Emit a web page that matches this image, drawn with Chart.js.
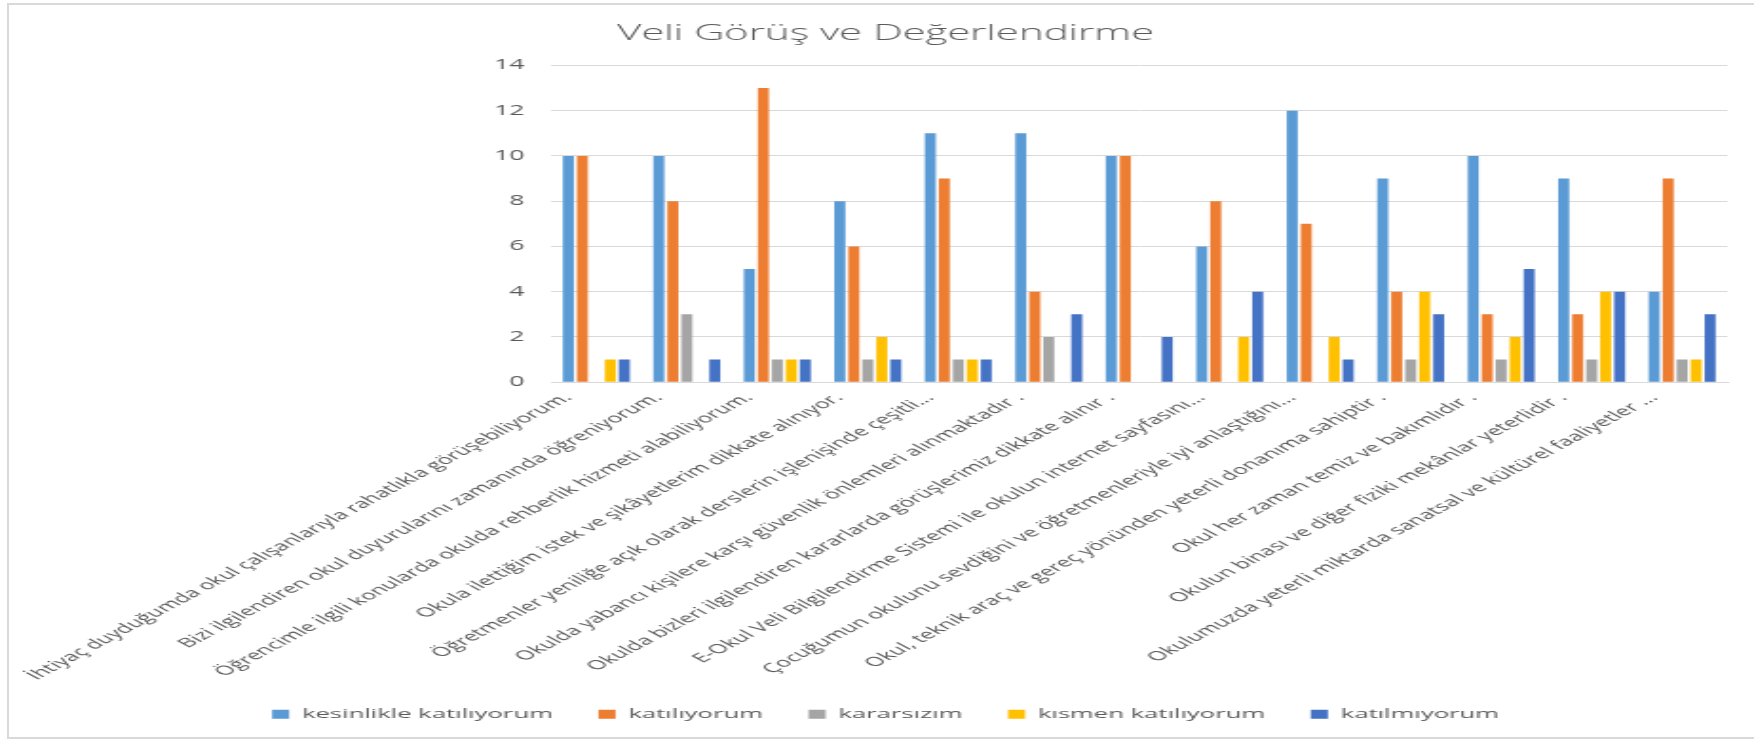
<!DOCTYPE html>
<html lang="tr">
<head>
<meta charset="utf-8">
<title>Veli Görüş ve Değerlendirme</title>
<script src="https://cdn.jsdelivr.net/npm/chart.js@4.4.1/dist/chart.umd.min.js"></script>
<style>
  html, body { margin: 0; padding: 0; background: #fff; overflow: hidden; }
  #frame {
    position: absolute; left: 7px; top: 3px; width: 1770px; height: 736px;
    border: 2px solid #d9d9d9; box-sizing: border-box;
  }
  /* the source picture is stretched sideways, so the chart is drawn narrow and widened */
  #wrap {
    position: absolute; left: 0; top: 0; width: 923px; height: 742px;
    transform: scaleX(1.9003); transform-origin: 0 0;
  }
</style>
</head>
<body>
<div id="frame"></div>
<div id="wrap"><canvas id="chart" width="923" height="742"></canvas></div>

<script>
// categories (x axis)
const categories = [
  'İhtiyaç duyduğumda okul çalışanlarıyla rahatlıkla görüşebiliyorum.',
  'Bizi ilgilendiren okul duyurularını zamanında öğreniyorum.',
  'Öğrencimle ilgili konularda okulda rehberlik hizmeti alabiliyorum.',
  'Okula ilettiğim istek ve şikâyetlerim dikkate alınıyor.',
  'Öğretmenler yeniliğe açık olarak derslerin işlenişinde çeşitli...',
  'Okulda yabancı kişilere karşı güvenlik önlemleri alınmaktadır .',
  'Okulda bizleri ilgilendiren kararlarda görüşlerimiz dikkate alınır .',
  'E-Okul Veli Bilgilendirme Sistemi ile okulun internet sayfasını...',
  'Çocuğumun okulunu sevdiğini ve öğretmenleriyle iyi anlaştığını...',
  'Okul, teknik araç ve gereç yönünden yeterli donanıma sahiptir .',
  'Okul her zaman temiz ve bakımlıdır .',
  'Okulun binası ve diğer fiziki mekânlar yeterlidir .',
  'Okulumuzda yeterli miktarda sanatsal ve kültürel faaliyetler ...'
];

// series values
const kesinlikleKatiliyorum = [10, 10, 5, 8, 11, 11, 10, 6, 12, 9, 10, 9, 4];
const katiliyorum           = [10, 8, 13, 6, 9, 4, 10, 8, 7, 4, 3, 3, 9];
const kararsizim            = [0, 3, 1, 1, 1, 2, 0, 0, 0, 1, 1, 1, 1];
const kismenKatiliyorum     = [1, 0, 1, 2, 1, 0, 0, 2, 2, 4, 2, 4, 1];
const katilmiyorum          = [1, 1, 1, 1, 1, 3, 2, 4, 1, 3, 5, 4, 3];

// y axis
const yMin = 0;
const yMax = 14;
const yStep = 2;

const TEXT = '#595959';
const GRID = '#d9d9d9';
const FONT = 'Open Sans';

const series = [
  { label: 'kesinlikle katılıyorum', data: kesinlikleKatiliyorum, color: '#5b9bd5' },
  { label: 'katılıyorum',            data: katiliyorum,           color: '#ed7d31' },
  { label: 'kararsızım',             data: kararsizim,            color: '#a5a5a5' },
  { label: 'kısmen katılıyorum',     data: kismenKatiliyorum,     color: '#ffc000' },
  { label: 'katılmıyorum',           data: katilmiyorum,          color: '#4472c4' }
];

new Chart(document.getElementById('chart'), {
  type: 'bar',
  data: {
    labels: categories,
    datasets: series.map(s => ({
      label: s.label,
      data: s.data,
      backgroundColor: s.color,
      borderWidth: 0,
      categoryPercentage: 0.773,
      barPercentage: 0.786
    }))
  },
  options: {
    responsive: false,
    animation: false,
    layout: { padding: { left: 23, right: 14, top: 0, bottom: 11 } },
    plugins: {
      title: {
        display: true,
        text: 'Veli Görüş ve Değerlendirme',
        color: TEXT,
        font: { family: FONT, size: 22, weight: '300' },
        padding: { top: 21, bottom: 18 }
      },
      legend: {
        position: 'bottom',
        labels: {
          color: TEXT,
          font: { family: FONT, size: 13.5 },
          boxWidth: 9,
          boxHeight: 9,
          padding: 24
        }
      },
      tooltip: { enabled: false }
    },
    scales: {
      x: {
        grid: { display: false },
        border: { color: GRID },
        ticks: {
          color: TEXT,
          font: { family: FONT, size: 13 },
          minRotation: 45,
          maxRotation: 45,
          autoSkip: false,
          padding: 0,
          labelOffset: -15
        }
      },
      y: {
        min: yMin,
        max: yMax,
        border: { display: false },
        grid: { color: GRID, drawTicks: false },
        ticks: {
          stepSize: yStep,
          color: TEXT,
          font: { family: FONT, size: 14 },
          padding: 14
        },
        // keep the plot's left edge where the reference has it
        afterFit: scale => { scale.width = 267; }
      }
    }
  }
});
</script>
</body>
</html>
